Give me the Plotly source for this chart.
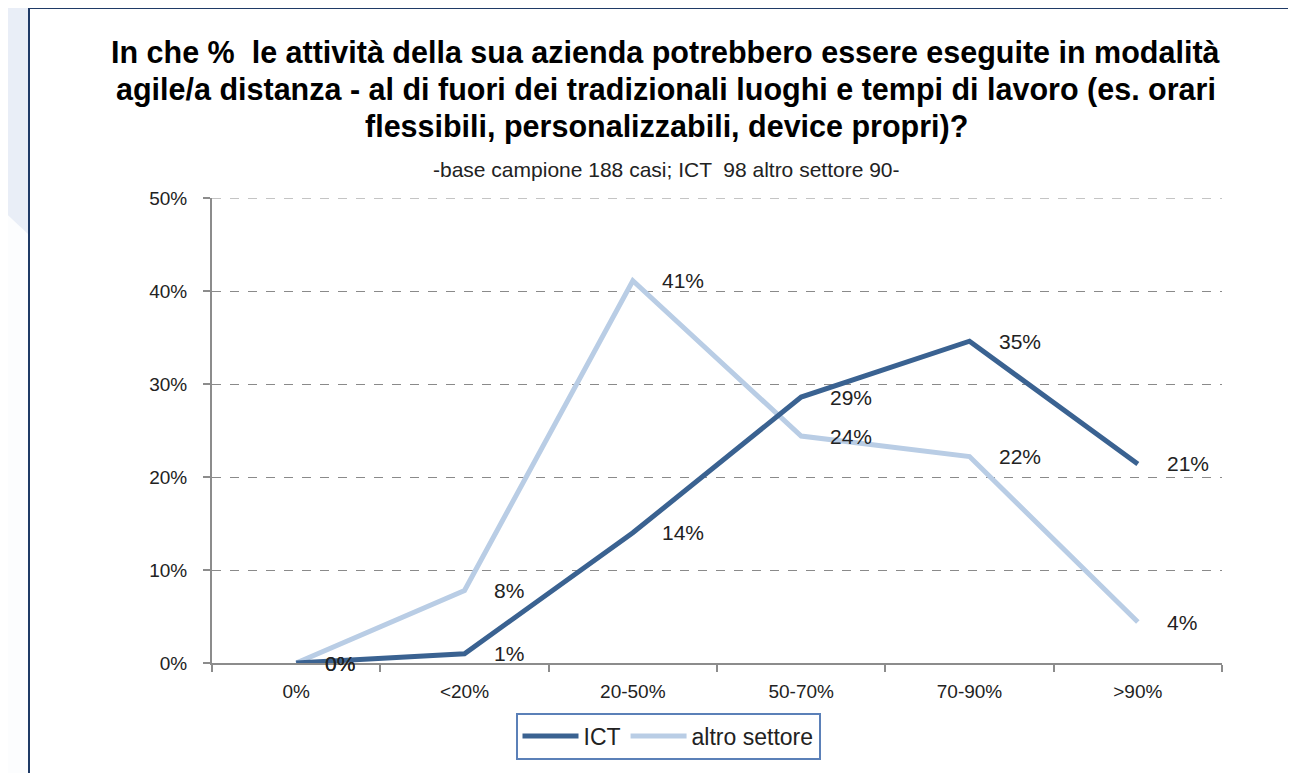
import plotly.graph_objects as go

categories = ["0%", "<20%", "20-50%", "50-70%", "70-90%", ">90%"]
ict = [0.0, 0.01, 0.14, 0.286, 0.346, 0.214]
altro = [0.0, 0.078, 0.411, 0.244, 0.222, 0.044]
y_ticks = [0, 0.1, 0.2, 0.3, 0.4, 0.5]

title_lines = [
    "In che %  le attività della sua azienda potrebbero essere eseguite in modalità",
    "agile/a distanza - al di fuori dei tradizionali luoghi e tempi di lavoro (es. orari",
    "flessibili, personalizzabili, device propri)?",
]
subtitle = "-base campione 188 casi; ICT  98 altro settore 90-"

DARK = "#3A6291"
LIGHT = "#B9CDE5"
AXIS = "#8C8C8C"
GRID = "#8A8A8A"
FONT = "Liberation Sans"

# page body has an 8px margin, so figure coords = screen coords - 8
OFF = 8
W, H = 1296 - OFF, 773 - OFF
L, R, T, B = 212, 1222, 198, 663  # plot area in screen pixels


def px(x):
    return (x - L) / (R - L)


def py(y):
    return (B - y) / (B - T)


fig = go.Figure()
fig.add_trace(go.Scatter(x=categories, y=altro, name="altro settore", mode="lines",
                         line={"color": LIGHT, "width": 5}))
fig.add_trace(go.Scatter(x=categories, y=ict, name="ICT", mode="lines",
                         line={"color": DARK, "width": 5}))

notes = []
for series in (altro, ict):
    for cat, v in zip(categories, series):
        notes.append(dict(x=cat, y=v, text=f"{v:.0%}", showarrow=False, xanchor="left",
                          yanchor="middle", xshift=27,
                          font={"family": FONT, "size": 21, "color": "#222"}))

for i, line in enumerate(title_lines):
    notes.append(dict(xref="paper", yref="paper", x=px(666), y=py(52 + i * 37), text=f"<b>{line}</b>",
                      showarrow=False, xanchor="center", yanchor="middle",
                      font={"family": FONT, "size": 30.5, "color": "#000"}))
notes.append(dict(xref="paper", yref="paper", x=px(666), y=py(170), text=subtitle, showarrow=False,
                  xanchor="center", yanchor="middle",
                  font={"family": FONT, "size": 21, "color": "#222"}))

shapes = [
    # white panel with dark frame
    dict(type="rect", xref="paper", yref="paper", x0=px(29), y0=py(8), x1=px(1320), y1=py(800),
         fillcolor="white", line={"color": "#1F3A66", "width": 2}, layer="below"),
    # pale diagonal patch left of the panel
    dict(type="path", xref="paper", yref="paper",
         path=f"M {px(-5)},{py(203)} L {px(28)},{py(234)} L {px(28)},{py(800)} L {px(-5)},{py(800)} Z",
         fillcolor="#FCFDFE", line={"width": 0}, layer="below"),
    # top gridline (plotly drops the grid line sitting on the range edge)
    dict(type="line", xref="paper", yref="y", x0=0, x1=1, y0=y_ticks[-1], y1=y_ticks[-1],
         line={"color": GRID, "width": 1, "dash": "dash"}, layer="below"),
]

fig.update_layout(
    width=W, height=H,
    margin={"l": L - OFF, "r": W - (R - OFF), "t": T - OFF, "b": H - (B - OFF)},
    paper_bgcolor="#E9EEF7",
    plot_bgcolor="white",
    showlegend=True,
    legend={"orientation": "h", "x": px(668), "xanchor": "center", "y": py(736), "yanchor": "middle",
            "bordercolor": "#5B80B8", "borderwidth": 2, "bgcolor": "white", "traceorder": "reversed",
            "itemwidth": 56,
            "font": {"family": FONT, "size": 23, "color": "#222"}},
    annotations=notes,
    shapes=shapes,
)
fig.update_xaxes(type="category", range=[-0.5, 5.5], showgrid=False, showline=True, linecolor=AXIS,
                 linewidth=2, ticks="outside", tickson="boundaries", ticklen=7, tickcolor=AXIS,
                 tickwidth=2, ticklabelstandoff=10,
                 tickfont={"family": FONT, "size": 19, "color": "#222"})
fig.update_yaxes(range=[0, 0.5], tickvals=y_ticks, tickformat=".0%", showgrid=True,
                 gridcolor=GRID, griddash="dash", gridwidth=1, showline=True, linecolor=AXIS,
                 linewidth=2, ticks="outside", ticklen=7, tickcolor=AXIS, tickwidth=2, zeroline=False,
                 ticklabelstandoff=12,
                 tickfont={"family": FONT, "size": 19, "color": "#222"})

fig.write_html("out.html")
